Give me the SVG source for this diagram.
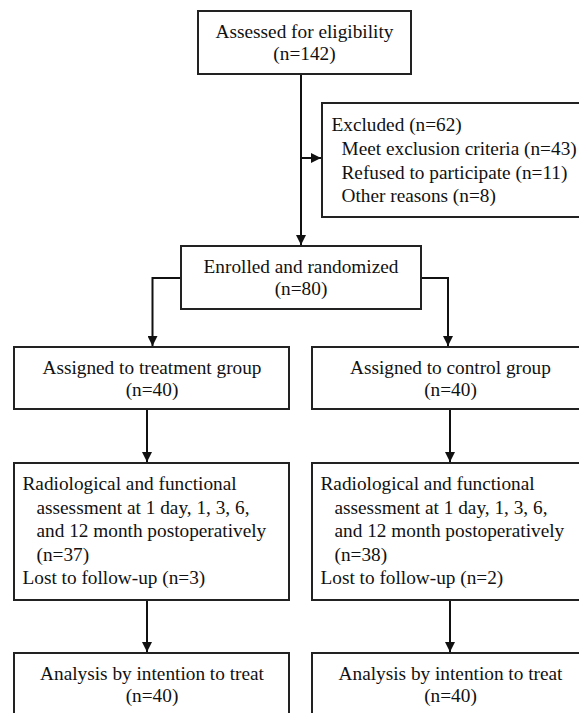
<svg xmlns="http://www.w3.org/2000/svg" width="579" height="713" viewBox="0 0 579 713">
<defs>
<marker id="arr" viewBox="0 0 10 10" refX="10" refY="5" markerWidth="10" markerHeight="10" markerUnits="userSpaceOnUse" orient="auto">
<path d="M0,0 L10,5 L0,10 z" fill="#111"/>
</marker>
<style>
.box{fill:#fff;stroke:#222;stroke-width:2}
.t{font-family:"Liberation Serif","Times New Roman",serif;font-size:19.3px;fill:#111}
.c{text-anchor:middle}
.ln{fill:none;stroke:#111;stroke-width:2}
</style>
</defs>
<rect width="579" height="713" fill="#fff"/>
<g id="connectors">
<line class="ln" x1="301" y1="74" x2="301" y2="245" marker-end="url(#arr)"/>
<line class="ln" x1="301" y1="158" x2="321" y2="158" marker-end="url(#arr)"/>
<polyline class="ln" points="181,278 152.5,278 152.5,346" marker-end="url(#arr)"/>
<polyline class="ln" points="421,278 448,278 448,346" marker-end="url(#arr)"/>
<line class="ln" x1="147" y1="409" x2="147" y2="462" marker-end="url(#arr)"/>
<line class="ln" x1="450" y1="409" x2="450" y2="462" marker-end="url(#arr)"/>
<line class="ln" x1="147" y1="600" x2="147" y2="652" marker-end="url(#arr)"/>
<line class="ln" x1="450" y1="600" x2="450" y2="652" marker-end="url(#arr)"/>
</g>
<g id="assessed">
<rect class="box" x="198" y="11" width="213" height="63"/>
<text class="t c" x="304.5" y="37.5">Assessed for eligibility</text>
<text class="t c" x="304.5" y="60">(n=142)</text>
</g>
<g id="excluded">
<rect class="box" x="322" y="103" width="270" height="114"/>
<text class="t" x="331.5" y="131">Excluded (n=62)</text>
<text class="t" x="341.5" y="155">Meet exclusion criteria (n=43)</text>
<text class="t" x="341.5" y="178.5">Refused to participate (n=11)</text>
<text class="t" x="341.5" y="202">Other reasons (n=8)</text>
</g>
<g id="enrolled">
<rect class="box" x="181" y="246" width="240" height="63"/>
<text class="t c" x="301" y="272.5">Enrolled and randomized</text>
<text class="t c" x="301" y="295">(n=80)</text>
</g>
<g id="treatment">
<rect class="box" x="14" y="347" width="275" height="62"/>
<text class="t c" x="152" y="373.5">Assigned to treatment group</text>
<text class="t c" x="152" y="396">(n=40)</text>
</g>
<g id="control">
<rect class="box" x="312" y="347" width="280" height="62"/>
<text class="t c" x="450.5" y="373.5">Assigned to control group</text>
<text class="t c" x="450.5" y="396">(n=40)</text>
</g>
<g id="followup-treatment">
<rect class="box" x="14" y="463" width="275" height="137"/>
<text class="t" x="22.5" y="490">Radiological and functional</text>
<text class="t" x="36.5" y="513.5">assessment at 1 day, 1, 3, 6,</text>
<text class="t" x="36.5" y="537">and 12 month postoperatively</text>
<text class="t" x="36.5" y="560.5">(n=37)</text>
<text class="t" x="22.5" y="584">Lost to follow-up (n=3)</text>
</g>
<g id="followup-control">
<rect class="box" x="312" y="463" width="280" height="137"/>
<text class="t" x="320.5" y="490">Radiological and functional</text>
<text class="t" x="334.5" y="513.5">assessment at 1 day, 1, 3, 6,</text>
<text class="t" x="334.5" y="537">and 12 month postoperatively</text>
<text class="t" x="334.5" y="560.5">(n=38)</text>
<text class="t" x="320.5" y="584">Lost to follow-up (n=2)</text>
</g>
<g id="analysis-treatment">
<rect class="box" x="14" y="653" width="275" height="80"/>
<text class="t c" x="152" y="680">Analysis by intention to treat</text>
<text class="t c" x="152" y="702">(n=40)</text>
</g>
<g id="analysis-control">
<rect class="box" x="312" y="653" width="280" height="80"/>
<text class="t c" x="450.5" y="680">Analysis by intention to treat</text>
<text class="t c" x="450.5" y="702">(n=40)</text>
</g>
</svg>
